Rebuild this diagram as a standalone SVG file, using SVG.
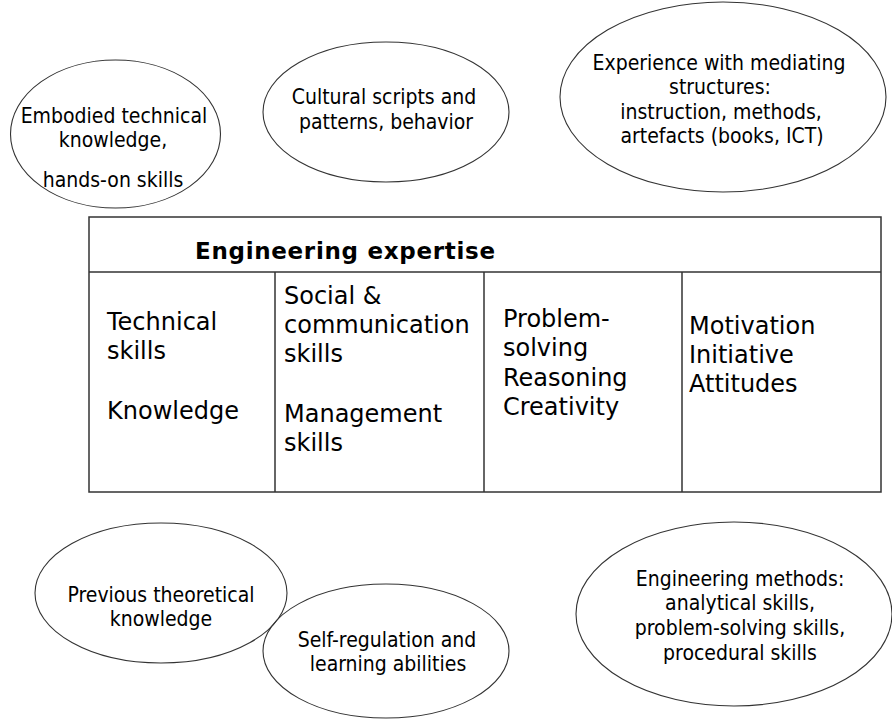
<svg xmlns="http://www.w3.org/2000/svg" width="892" height="722" viewBox="0 0 892 722">
<style>
.bg{fill:#ffffff}
.ell{fill:none;stroke:#333333;stroke-width:1.1}
.box{fill:none;stroke:#333333;stroke-width:1.5}
.et{font-family:"DejaVu Sans Condensed","Liberation Sans",sans-serif;font-size:21px;fill:#000000;text-anchor:middle}
.ct{font-family:"DejaVu Sans",Verdana,sans-serif;font-size:24px;fill:#000000}
.ht{font-family:"DejaVu Sans",Verdana,sans-serif;font-size:23px;font-weight:bold;fill:#000000}
</style>
<rect class="bg" x="0" y="0" width="892" height="722"/>

<g id="embodied">
<ellipse class="ell" cx="115.5" cy="134" rx="105" ry="74"/>
<text class="et" x="114" y="123">Embodied technical</text>
<text class="et" x="113" y="147">knowledge,</text>
<text class="et" x="113" y="187">hands-on skills</text>
</g>

<g id="cultural">
<ellipse class="ell" cx="386" cy="112" rx="123" ry="70"/>
<text class="et" x="384" y="104">Cultural scripts and</text>
<text class="et" x="386" y="129">patterns, behavior</text>
</g>

<g id="experience">
<ellipse class="ell" cx="723" cy="97" rx="163" ry="95"/>
<text class="et" x="719" y="70">Experience with mediating</text>
<text class="et" x="720" y="94">structures:</text>
<text class="et" x="721" y="119">instruction, methods,</text>
<text class="et" x="722" y="143">artefacts (books, ICT)</text>
</g>

<g id="expertise">
<rect class="box" x="89" y="217" width="792" height="275"/>
<line class="box" x1="89" y1="272" x2="881" y2="272"/>
<line class="box" x1="275" y1="272" x2="275" y2="492"/>
<line class="box" x1="484" y1="272" x2="484" y2="492"/>
<line class="box" x1="682" y1="272" x2="682" y2="492"/>
<text class="ht" x="195" y="259" textLength="300" lengthAdjust="spacing">Engineering expertise</text>
<text class="ct" x="107" y="330">Technical</text>
<text class="ct" x="107" y="359">skills</text>
<text class="ct" x="107" y="419">Knowledge</text>
<text class="ct" x="284" y="304">Social &amp;</text>
<text class="ct" x="284" y="333">communication</text>
<text class="ct" x="284" y="362">skills</text>
<text class="ct" x="284" y="422">Management</text>
<text class="ct" x="284" y="451">skills</text>
<text class="ct" x="503" y="327">Problem-</text>
<text class="ct" x="503" y="356">solving</text>
<text class="ct" x="503" y="386">Reasoning</text>
<text class="ct" x="503" y="415">Creativity</text>
<text class="ct" x="689" y="334">Motivation</text>
<text class="ct" x="689" y="363">Initiative</text>
<text class="ct" x="689" y="392">Attitudes</text>
</g>

<g id="previous">
<ellipse class="ell" cx="161" cy="593" rx="126" ry="70"/>
<text class="et" x="161" y="602">Previous theoretical</text>
<text class="et" x="161" y="626">knowledge</text>
</g>

<g id="selfregulation">
<ellipse class="ell" cx="386" cy="651" rx="123" ry="67"/>
<text class="et" x="387" y="647">Self-regulation and</text>
<text class="et" x="388" y="671">learning abilities</text>
</g>

<g id="methods">
<ellipse class="ell" cx="734" cy="614" rx="158" ry="92"/>
<text class="et" x="740" y="586">Engineering methods:</text>
<text class="et" x="740" y="610">analytical skills,</text>
<text class="et" x="740" y="635">problem-solving skills,</text>
<text class="et" x="740" y="660">procedural skills</text>
</g>

<g id="connectors"></g>
</svg>
